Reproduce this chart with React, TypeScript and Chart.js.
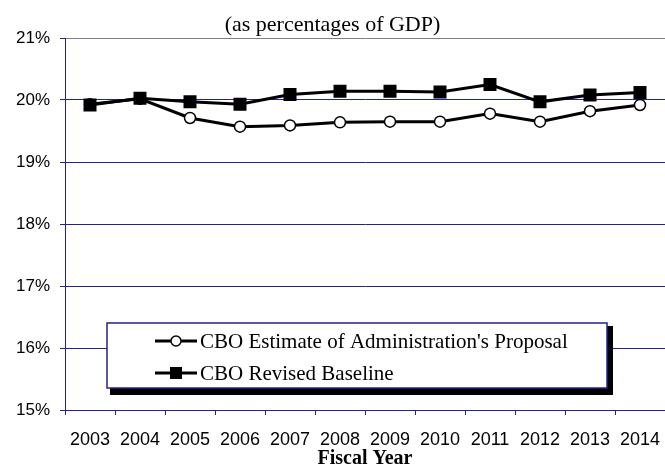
import React, { useEffect, useRef } from "react";
import { Chart, registerables } from "chart.js";

Chart.register(...registerables);

const years = ["2003", "2004", "2005", "2006", "2007", "2008", "2009", "2010", "2011", "2012", "2013", "2014"];
const proposal = [19.93, 20.02, 19.71, 19.57, 19.59, 19.64, 19.65, 19.65, 19.78, 19.65, 19.82, 19.92];
const baseline = [19.92, 20.03, 19.97, 19.93, 20.09, 20.14, 20.14, 20.13, 20.25, 19.97, 20.08, 20.12];
const yTicks = [15, 16, 17, 18, 19, 20, 21];
const titleText = "(as percentages of GDP)";
const xTitle = "Fiscal Year";
const seriesNames = ["CBO Estimate of Administration's Proposal", "CBO Revised Baseline"];

const NAVY = "#23238c";
const SERIF = "'Liberation Serif', 'Times New Roman', serif";
const SANS = "'Liberation Sans', Arial, sans-serif";

const boxLegend = {
  id: "boxLegend",
  afterDraw(chart: any) {
    const ctx = chart.ctx;
    const x = 107, y = 323, w = 500, h = 65;
    ctx.save();
    ctx.fillStyle = "#000";
    ctx.fillRect(x + 3, y + 3, w + 3, h + 4);
    ctx.fillStyle = "#fff";
    ctx.fillRect(x, y, w, h);
    ctx.strokeStyle = NAVY;
    ctx.lineWidth = 1.5;
    ctx.strokeRect(x, y, w, h);
    chart.data.datasets.forEach((ds: any, i: number) => {
      const ry = 341 + i * 32;
      ctx.strokeStyle = "#000";
      ctx.lineWidth = 3;
      ctx.beginPath();
      ctx.moveTo(155, ry);
      ctx.lineTo(197, ry);
      ctx.stroke();
      if (ds.pointStyle === "rect") {
        ctx.fillStyle = "#000";
        ctx.fillRect(170, ry - 6, 12, 12);
      } else {
        ctx.beginPath();
        ctx.arc(176, ry, 5, 0, Math.PI * 2);
        ctx.fillStyle = "#fff";
        ctx.fill();
        ctx.lineWidth = 1.5;
        ctx.stroke();
      }
      ctx.fillStyle = "#000";
      ctx.font = `21px ${SERIF}`;
      ctx.textBaseline = "middle";
      ctx.textAlign = "left";
      ctx.fillText(ds.label, 200, ry + 1);
    });
    ctx.restore();
  },
};

export default function App() {
  const ref = useRef<HTMLCanvasElement | null>(null);
  useEffect(() => {
    if (!ref.current) return;
    const chart = new Chart(ref.current, {
      type: "line",
      data: {
        labels: years,
        datasets: [
          {
            label: seriesNames[0],
            data: proposal,
            borderColor: "#000",
            borderWidth: 3,
            pointStyle: "circle",
            pointRadius: 5.5,
            pointBorderWidth: 1.5,
            pointBackgroundColor: "#fff",
            pointBorderColor: "#000",
            tension: 0,
            order: 1,
          },
          {
            label: seriesNames[1],
            data: baseline,
            borderColor: "#000",
            borderWidth: 3,
            pointStyle: "rect",
            pointRadius: 9.2,
            pointBorderWidth: 0,
            pointBackgroundColor: "#000",
            pointBorderColor: "#000",
            tension: 0,
            order: 0,
          },
        ],
      },
      options: {
        animation: false,
        responsive: true,
        maintainAspectRatio: false,
        layout: { padding: 0, autoPadding: false },
        plugins: {
          legend: { display: false },
          tooltip: { enabled: false },
          title: {
            display: true,
            text: titleText,
            color: "#000",
            font: { family: SERIF, size: 22, weight: "normal", lineHeight: 1.2 },
            padding: { top: 11.6, bottom: 0 },
          },
        },
        scales: {
          x: {
            type: "category",
            offset: true,
            afterFit: (s: any) => {
              s.height = 59;
              s.paddingLeft = 0;
              s.paddingRight = 0;
            },
            grid: {
              display: true,
              offset: true,
              drawOnChartArea: false,
              drawTicks: true,
              tickLength: 5,
              tickColor: NAVY,
              tickWidth: 1,
            },
            border: { display: true, color: NAVY, width: 1 },
            ticks: {
              color: "#000",
              font: { family: SANS, size: 18 },
              padding: 14,
              maxRotation: 0,
              autoSkip: false,
            },
            title: {
              display: true,
              text: xTitle,
              color: "#000",
              font: { family: SERIF, size: 20, weight: "bold", lineHeight: 1 },
              padding: 0,
            },
          },
          y: {
            min: 15,
            max: 21,
            afterFit: (s: any) => {
              s.width = 65;
              s.paddingTop = 0;
              s.paddingBottom = 0;
            },
            afterBuildTicks: (s: any) => {
              s.ticks = yTicks.map((v) => ({ value: v }));
            },
            grid: {
              color: (c: any) => (c.tick && c.tick.value === 21 ? "#808080" : NAVY),
              tickColor: NAVY,
              tickLength: 5,
              lineWidth: 1,
            },
            border: { display: true, color: NAVY, width: 1 },
            ticks: {
              color: "#000",
              font: { family: SANS, size: 17 },
              padding: 10,
              callback: (v: any) => `${v}%`,
            },
          },
        },
      },
      plugins: [boxLegend],
    });
    return () => chart.destroy();
  }, []);
  return (
    <div style={{ position: "fixed", left: 0, top: 0, width: 665, height: 469, background: "#fff" }}>
      <canvas ref={ref} />
    </div>
  );
}
